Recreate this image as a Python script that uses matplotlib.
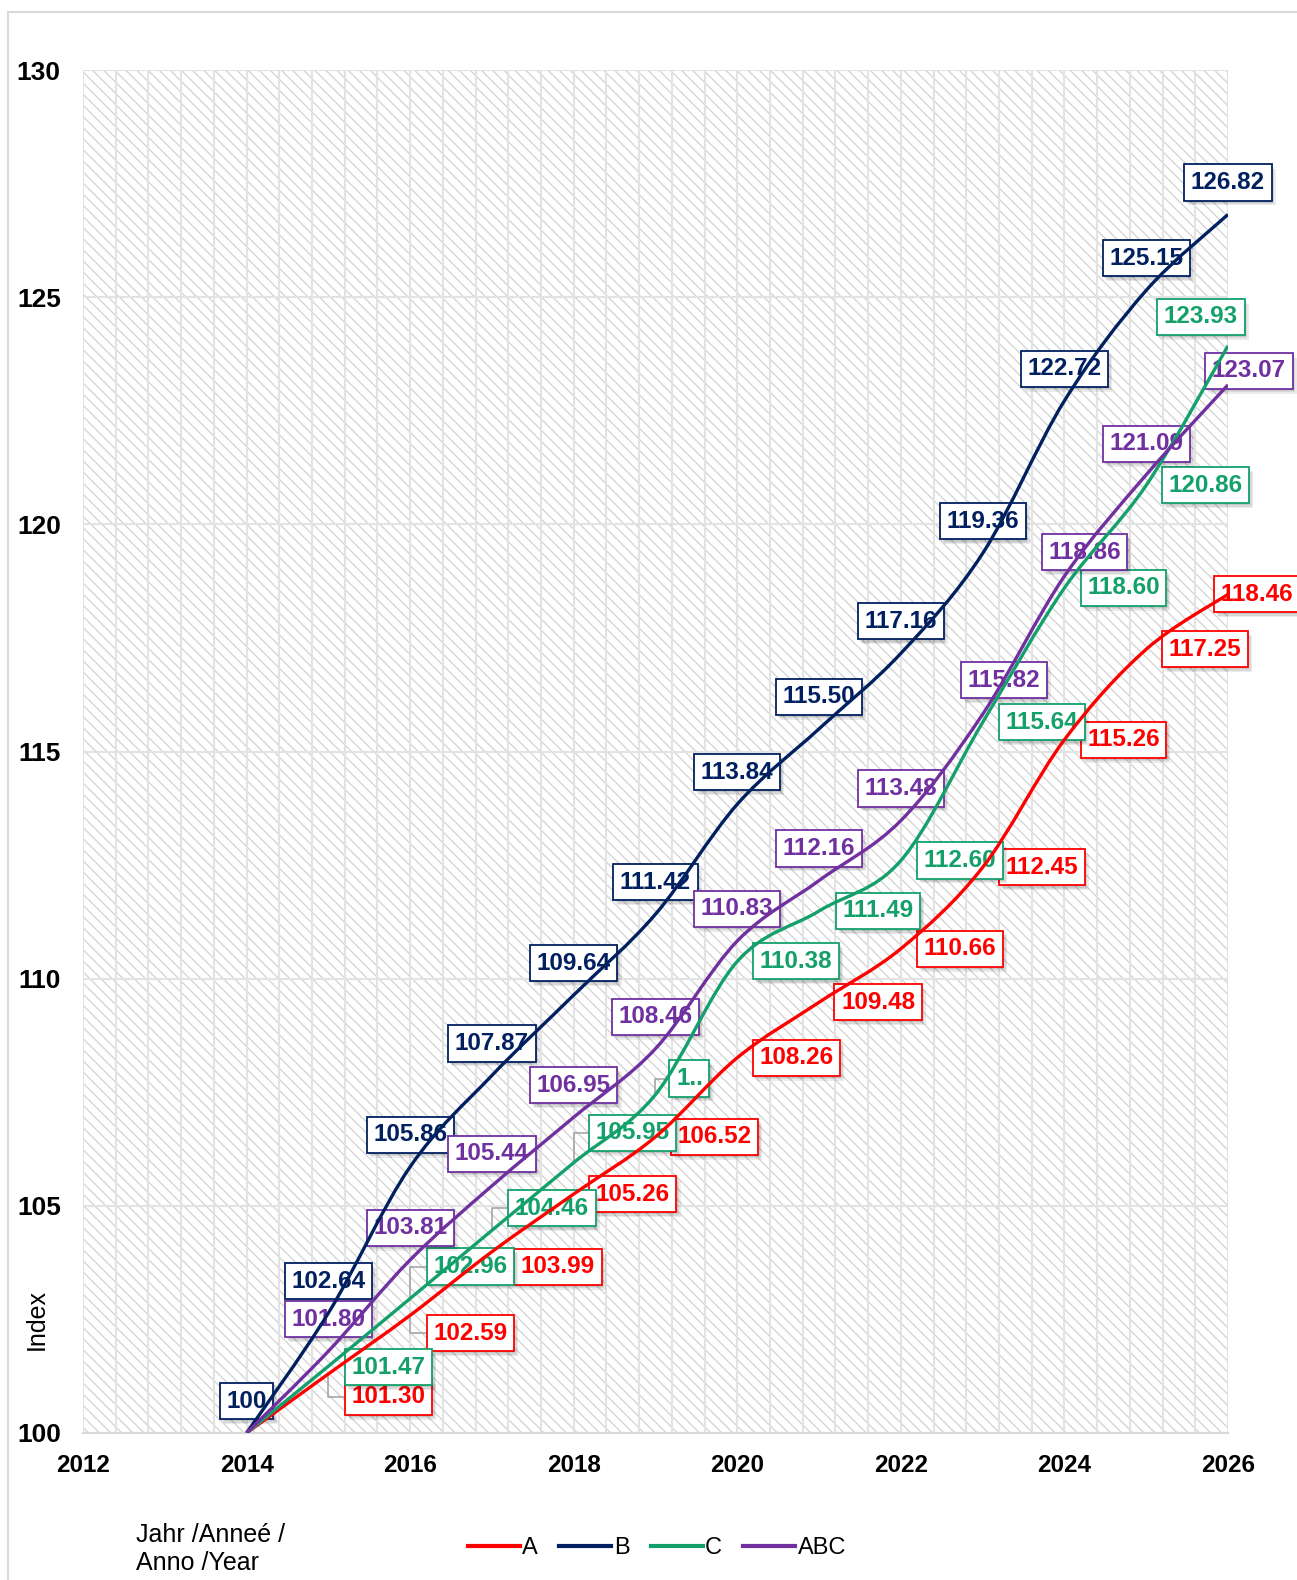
import matplotlib
matplotlib.use("Agg")
import matplotlib.pyplot as plt
import matplotlib.patheffects as pe
from matplotlib.path import Path
from matplotlib.patches import PathPatch, Rectangle
from matplotlib.lines import Line2D
import numpy as np

plt.rcParams['font.family'] = ['Liberation Sans', 'DejaVu Sans']
plt.rcParams['hatch.linewidth'] = 0.9
plt.rcParams['hatch.color'] = '#d2d2d2'

years = [2014, 2015, 2016, 2017, 2018, 2019, 2020, 2021, 2022, 2023, 2024, 2025, 2026]
a_vals = [100, 101.30, 102.59, 103.99, 105.26, 106.52, 108.26, 109.48, 110.66, 112.45, 115.26, 117.25, 118.46]
b_vals = [100, 102.64, 105.86, 107.87, 109.64, 111.42, 113.84, 115.50, 117.16, 119.36, 122.72, 125.15, 126.82]
c_vals = [100, 101.47, 102.96, 104.46, 105.95, 107.45, 110.38, 111.49, 112.60, 115.64, 118.60, 120.86, 123.93]
abc_vals = [100, 101.80, 103.81, 105.44, 106.95, 108.46, 110.83, 112.16, 113.48, 115.82, 118.86, 121.09, 123.07]

col_a = '#ff0000'
col_b = '#002060'
col_c = '#14a06b'
col_abc = '#7030a0'

# label offsets in pixels (dx, dy up), None = no label
off_a = [None, (60, -23), (60, -18), (66, -15)] + [(59, 0)] * 8 + [(29, 0)]
off_b = [(0, 32)] * 13
off_c = [None, (60, -1), (60, 32), (60, 22), (59, 30), (34, 16)] + [(59, 0)] * 6 + [(-27, 29)]
off_abc = [None] + [(0, 32)] * 8 + [(21, 34), (20, 24), (0, 31), (21, 14)]
leader_a = [1, 2]
leader_c = [2, 3, 4, 5]


def smooth_path(xs, ys):
    pts = np.column_stack([xs, ys]).astype(float)
    n = len(pts)
    verts = [pts[0]]
    codes = [Path.MOVETO]
    for i in range(n - 1):
        p0 = pts[max(i - 1, 0)]
        p1 = pts[i]
        p2 = pts[i + 1]
        p3 = pts[min(i + 2, n - 1)]
        verts += [p1 + (p2 - p0) / 6, p2 - (p3 - p1) / 6, p2]
        codes += [Path.CURVE4] * 3
    return Path(verts, codes)


shadow = [pe.SimplePatchShadow(offset=(o, -o - 0.5), shadow_rgbFace='k', alpha=0.08) for o in (0, 1, 2, 3)]
shadow.append(pe.Normal())


def label(ax, x, y, text, color, off, leader=False):
    kw = {}
    if leader:
        kw['arrowprops'] = dict(arrowstyle='-', color='#a6a6a6', lw=1.2, shrinkA=0, shrinkB=1,
                                relpos=(0, 0.5), connectionstyle='angle,angleA=0,angleB=90,rad=0')
    ann = ax.annotate(text, (x, y), xytext=off, textcoords='offset pixels',
                      ha='center', va='center', fontsize=17.5, fontweight='bold', color=color,
                      bbox=dict(boxstyle='square,pad=0.27', fc='white', ec=color, lw=1.3),
                      zorder=2, annotation_clip=False, **kw)
    ann.get_bbox_patch().set_path_effects(shadow)


fig = plt.figure(figsize=(12.97, 15.80), dpi=100)
ax = fig.add_axes([83 / 1297, 1 - 1433 / 1580, (1228 - 83) / 1297, (1433 - 70) / 1580])

ax.add_patch(Rectangle((0, 0), 1, 1, transform=ax.transAxes, facecolor='white',
                       edgecolor='#d2d2d2', hatch='\\\\\\', lw=0, zorder=0))
ax.set_xlim(2012, 2026)
ax.set_ylim(100, 130)
ax.set_xticks(range(2012, 2027, 2))
ax.set_xticks(np.arange(2012, 2026.01, 0.4), minor=True)
ax.set_yticks(range(100, 131, 5))
ax.set_axisbelow(True)
ax.grid(axis='x', which='both', color='#e3e3e3', lw=1.5)
ax.grid(axis='y', which='major', color='#e3e3e3', lw=1.5)
ax.tick_params(which='both', length=0)
ax.tick_params(axis='y', pad=16, labelsize=19)
ax.tick_params(axis='x', pad=15, labelsize=17.5)
for t in ax.get_xticklabels() + ax.get_yticklabels():
    t.set_fontweight('bold')
for s in ['top', 'left', 'right']:
    ax.spines[s].set_visible(False)
ax.spines['bottom'].set_color('#d9d9d9')
ax.spines['bottom'].set_linewidth(1.5)

series = [(a_vals, col_a, off_a, leader_a, 'A'),
          (b_vals, col_b, off_b, [], 'B'),
          (c_vals, col_c, off_c, leader_c, 'C'),
          (abc_vals, col_abc, off_abc, [], 'ABC')]

handles = []
for vals, col, offs, leaders, name in series:
    ax.add_patch(PathPatch(smooth_path(years, vals), facecolor='none', edgecolor=col,
                           lw=2.4, zorder=3, capstyle='butt'))
    for i, (yr, v) in enumerate(zip(years, vals)):
        if offs[i] is None:
            continue
        txt = '100' if v == 100 else f'{v:.2f}'
        if name == 'C' and yr == 2019:
            txt = '1..'
        label(ax, yr, v, txt, col, offs[i], leader=i in leaders)
    handles.append(Line2D([], [], color=col, lw=3, label=name))

fig.legend(handles=handles, loc='center', bbox_to_anchor=(657 / 1297, 1 - 1548 / 1580),
           ncol=4, frameon=False, fontsize=17, handlelength=2.2, handletextpad=0.1,
           columnspacing=0.9)

fig.text(37 / 1297, 1 - 1320 / 1580, 'Index', rotation=90, fontsize=18, ha='center', va='center')
fig.text(136 / 1297, 1 - 1549 / 1580, 'Jahr /Anneé /\nAnno /Year', fontsize=18,
         ha='left', va='center', linespacing=1.2)

fig.add_artist(Rectangle((8 / 1297, -0.01), 1.0, 1 - 12 / 1580 + 0.01, transform=fig.transFigure,
                         fill=False, edgecolor='#d9d9d9', lw=1.5))

fig.savefig('out.png', dpi=100)
